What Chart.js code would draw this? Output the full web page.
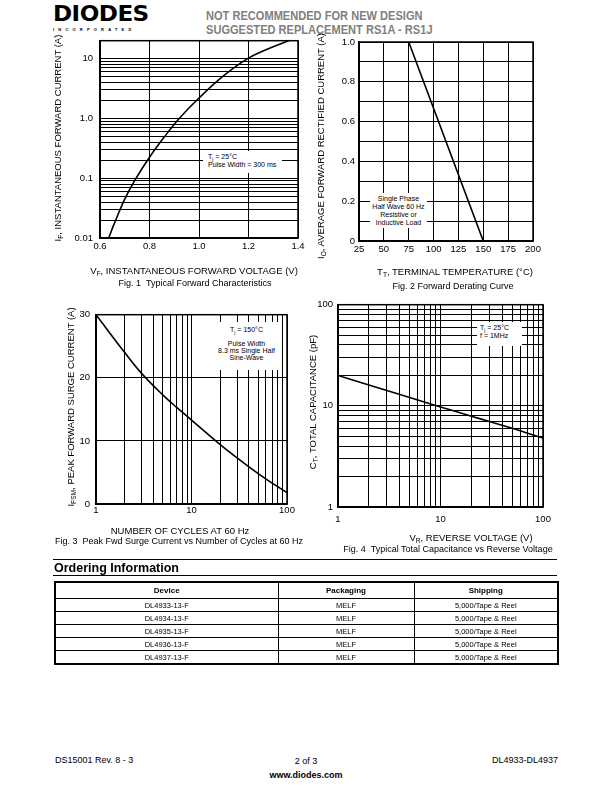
<!DOCTYPE html>
<html><head><meta charset="utf-8">
<script src="https://cdn.jsdelivr.net/npm/chart.js@4.4.0/dist/chart.umd.min.js"></script>
<style>
html,body{margin:0;padding:0;background:#fff;}
body{width:612px;height:792px;position:relative;overflow:hidden;font-family:"Liberation Sans",Arial,sans-serif;color:#000;}
.abs{position:absolute;white-space:nowrap;}
canvas{position:absolute;}
.ytitle{position:absolute;white-space:nowrap;transform:translate(-50%,-50%) rotate(-90deg);font-size:9.5px;}
.ctr{position:absolute;white-space:nowrap;transform:translate(-50%,-50%);font-size:9.5px;}
.cap{font-size:9px;}
.note{position:absolute;background:#fff;color:#000;font-size:7px;line-height:8px;white-space:nowrap;}
sub{font-size:70%;vertical-align:-2px;line-height:0;}
table.ord{position:absolute;left:54px;top:581px;width:503px;border-collapse:collapse;border:2px solid #000;font-size:7.5px;table-layout:fixed;}
table.ord td,table.ord th{border:1px solid #000;text-align:center;padding:0;}
table.ord th{height:15px;font-weight:bold;font-size:8px;}
table.ord td{height:12px;}
</style>
</head><body>

<!-- header -->
<div class="abs" style="left:53px;top:2px;font-family:'DejaVu Sans',sans-serif;font-weight:900;font-size:21px;letter-spacing:-0.5px;transform:scaleX(1.1);transform-origin:left top;">DIODES</div>
<div class="abs" style="left:53px;top:27px;font-size:4px;font-weight:bold;letter-spacing:4.2px;">INCORPORATED</div>
<div class="abs" style="left:206px;top:9px;font-weight:bold;font-size:13.5px;color:#808080;transform:scaleX(0.82);transform-origin:left top;line-height:14px;">NOT RECOMMENDED FOR NEW DESIGN<br>SUGGESTED REPLACEMENT RS1A - RS1J</div>

<canvas id="c1"></canvas>
<canvas id="c2"></canvas>
<canvas id="c3"></canvas>
<canvas id="c4"></canvas>

<!-- Fig 1 texts -->
<div class="ytitle" style="left:57px;top:138px;">I<sub>F</sub>, INSTANTANEOUS FORWARD CURRENT (A)</div>
<div class="ctr" style="left:194px;top:270px;">V<sub>F</sub>, INSTANTANEOUS FORWARD VOLTAGE (V)</div>
<div class="ctr cap" style="left:195px;top:283px;">Fig. 1&nbsp; Typical Forward Characteristics</div>
<div class="note" style="left:203px;top:151px;width:74px;height:20px;padding-left:5px;padding-top:2px;">T<sub>j</sub> = 25°C<br>Pulse Width = 300 ms</div>

<!-- Fig 2 texts -->
<div class="ytitle" style="left:320px;top:146px;">I<sub>O</sub>, AVERAGE FORWARD RECTIFIED CURRENT (A)</div>
<div class="ctr" style="left:455px;top:271px;">T<sub>T</sub>, TERMINAL TEMPERATURE (°C)</div>
<div class="ctr cap" style="left:453px;top:286px;">Fig. 2 Forward Derating Curve</div>
<div class="note" style="left:370px;top:193px;width:57px;height:33px;padding-top:2px;text-align:center;">Single Phase<br>Half Wave 60 Hz<br>Resistive or<br>Inductive Load</div>

<!-- Fig 3 texts -->
<div class="ytitle" style="left:70px;top:407px;">I<sub>FSM</sub>, PEAK FORWARD SURGE CURRENT (A)</div>
<div class="ctr" style="left:180px;top:530px;">NUMBER OF CYCLES AT 60 Hz</div>
<div class="ctr cap" style="left:179px;top:541px;">Fig. 3&nbsp; Peak Fwd Surge Current vs Number of Cycles at 60 Hz</div>
<div class="note" style="left:213px;top:322px;width:67px;height:44px;padding-top:4px;text-align:center;line-height:7px;">T<sub>j</sub> = 150°C<br><span style="display:inline-block;height:4px"></span><br>Pulse Width<br>8.3 ms Single Half<br>Sine-Wave</div>

<!-- Fig 4 texts -->
<div class="ytitle" style="left:312px;top:402px;">C<sub>T</sub>, TOTAL CAPACITANCE (pF)</div>
<div class="ctr" style="left:471px;top:537px;">V<sub>R</sub>, REVERSE VOLTAGE (V)</div>
<div class="ctr cap" style="left:448px;top:549px;">Fig. 4&nbsp; Typical Total Capacitance vs Reverse Voltage</div>
<div class="note" style="left:477px;top:322px;width:42px;height:22px;padding-left:3px;padding-top:2px;">T<sub>j</sub> = 25°C<br>f = 1MHz</div>

<!-- Ordering information -->
<div class="abs" style="left:53px;top:559px;width:504px;height:0;border-top:1.5px solid #000;"></div>
<div class="abs" style="left:54px;top:561px;font-weight:bold;font-size:12.5px;">Ordering Information</div>
<div class="abs" style="left:53px;top:575px;width:504px;height:0;border-top:1.5px solid #000;"></div>
<table class="ord" id="ordTable">
<colgroup><col style="width:223px"><col style="width:136px"><col style="width:144px"></colgroup>
<thead><tr><th>Device</th><th>Packaging</th><th>Shipping</th></tr></thead>
<tbody></tbody>
</table>

<!-- footer -->
<div class="abs" style="left:55px;top:755px;font-size:9px;">DS15001 Rev. 8 - 3</div>
<div class="ctr" style="left:306px;top:761px;font-size:9px;">2 of 3</div>
<div class="abs" style="right:54px;top:755px;font-size:9px;">DL4933-DL4937</div>
<div class="ctr" style="left:306px;top:775px;font-size:9px;font-weight:bold;">www.diodes.com</div>

<script>
// ---------- DATA ----------
// Fig 1: Typical Forward Characteristics
const fig1Voltage = [0.635, 0.66, 0.70, 0.74, 0.80, 0.86, 0.92, 1.00, 1.10, 1.20, 1.30, 1.37];
const fig1Current = [0.01, 0.0184, 0.0446, 0.091, 0.224, 0.49, 1.0, 2.2, 5.2, 10.2, 15.8, 20.5];
const fig1XTickValues = [0.6, 0.8, 1.0, 1.2, 1.4];
const fig1XTickLabels = ['0.6', '0.8', '1.0', '1.2', '1.4'];
const fig1YTickValues = [0.01, 0.1, 1, 10];
const fig1YTickLabels = ['0.01', '0.1', '1.0', '10'];

// Fig 2: Forward Derating Curve
const fig2Temperature = [25, 75, 150];
const fig2Current = [1.0, 1.0, 0];
const fig2XTickValues = [25, 50, 75, 100, 125, 150, 175, 200];
const fig2XTickLabels = ['25', '50', '75', '100', '125', '150', '175', '200'];
const fig2YTickValues = [0, 0.2, 0.4, 0.6, 0.8, 1.0];
const fig2YTickLabels = ['0', '0.2', '0.4', '0.6', '0.8', '1.0'];

// Fig 3: Peak Fwd Surge Current vs Number of Cycles
const fig3Cycles = [1, 2, 3, 5, 7, 10, 20, 30, 50, 70, 100];
const fig3Current = [30, 24, 20.7, 17.3, 15.3, 13.3, 9.4, 7.3, 4.8, 3.3, 1.8];
const fig3XTickValues = [1, 10, 100];
const fig3XTickLabels = ['1', '10', '100'];
const fig3YTickValues = [0, 10, 20, 30];
const fig3YTickLabels = ['0', '10', '20', '30'];

// Fig 4: Typical Total Capacitance vs Reverse Voltage
const fig4Voltage = [1, 2, 3, 5, 10, 20, 30, 50, 100];
const fig4Capacitance = [20, 16.1, 14.2, 12.1, 9.75, 7.9, 7.0, 6.0, 4.8];
const fig4XTickValues = [1, 10, 100];
const fig4XTickLabels = ['1', '10', '100'];
const fig4YTickValues = [1, 10, 100];
const fig4YTickLabels = ['1', '10', '100'];

// Ordering table
const orderDevices = ['DL4933-13-F', 'DL4934-13-F', 'DL4935-13-F', 'DL4936-13-F', 'DL4937-13-F'];
const orderPackaging = ['MELF', 'MELF', 'MELF', 'MELF', 'MELF'];
const orderShipping = ['5,000/Tape & Reel', '5,000/Tape & Reel', '5,000/Tape & Reel', '5,000/Tape & Reel', '5,000/Tape & Reel'];

// ---------- TABLE ----------
const tb = document.querySelector('#ordTable tbody');
orderDevices.forEach((d, i) => {
  const tr = document.createElement('tr');
  [d, orderPackaging[i], orderShipping[i]].forEach(t => {
    const td = document.createElement('td'); td.textContent = t; tr.appendChild(td);
  });
  tb.appendChild(tr);
});

// ---------- CHARTS ----------
Chart.defaults.font.family = '"Liberation Sans", Arial, sans-serif';
Chart.defaults.font.size = 9.5;
Chart.defaults.color = '#000';

function labeler(values, labels) {
  return (v) => {
    const i = values.findIndex(t => Math.abs(t - v) <= Math.abs(t) * 1e-6 + 1e-9);
    return i >= 0 ? labels[i] : '';
  };
}
function niceLogTicks(scale) {
  scale.ticks = scale.ticks.filter(t => {
    const e = Math.pow(10, Math.floor(Math.log10(t.value) + 1e-9));
    const m = t.value / e;
    return Math.abs(m - Math.round(m)) < 1e-6;
  });
}
const framePlugin = {
  id: 'frame',
  afterDraw(chart) {
    const a = chart.chartArea, ctx = chart.ctx;
    ctx.save();
    ctx.strokeStyle = '#000'; ctx.lineWidth = 1.5;
    ctx.strokeRect(a.left, a.top, a.right - a.left, a.bottom - a.top);
    ctx.restore();
  }
};

function axis(type, min, max, values, labels, pad, step) {
  const o = {
    type, min, max,
    grid: { color: '#000', lineWidth: 1, drawTicks: false },
    border: { display: true, color: '#000', width: 1.5 },
    ticks: { autoSkip: false, maxRotation: 0, padding: pad, callback: labeler(values, labels), color: '#000' }
  };
  if (step) o.ticks.stepSize = step;
  if (type === 'logarithmic') o.afterBuildTicks = niceLogTicks;
  return o;
}

function makeChart(id, area, xs, ys, xAxis, yAxis, tension) {
  const padL = 45, padT = 10, padR = 18, padB = 30;
  const c = document.getElementById(id);
  const W = area.R - area.L + padL + padR, H = area.B - area.T + padT + padB;
  c.width = W; c.height = H;
  c.style.left = (area.L - padL) + 'px'; c.style.top = (area.T - padT) + 'px';
  xAxis.afterFit = s => { s.height = padB; };
  yAxis.afterFit = s => { s.width = padL; };
  return new Chart(c, {
    type: 'line',
    data: {
      datasets: [{
        data: xs.map((x, i) => ({ x, y: ys[i] })),
        borderColor: '#000', borderWidth: 1.6, pointRadius: 0,
        tension: tension, cubicInterpolationMode: 'default', fill: false
      }]
    },
    options: {
      responsive: false, animation: false, devicePixelRatio: 1, events: [],
      layout: { padding: { left: 0, top: padT, right: padR, bottom: 0 } },
      plugins: { legend: { display: false }, tooltip: { enabled: false } },
      scales: { x: xAxis, y: yAxis }
    },
    plugins: [framePlugin]
  });
}

makeChart('c1', { L: 100, T: 38, R: 298, B: 238 }, fig1Voltage, fig1Current,
  axis('linear', 0.6, 1.4, fig1XTickValues, fig1XTickLabels, 3, 0.2),
  axis('logarithmic', 0.01, 20, fig1YTickValues, fig1YTickLabels, 7), 0.4);

makeChart('c2', { L: 359, T: 42, R: 533, B: 241 }, fig2Temperature, fig2Current,
  axis('linear', 25, 200, fig2XTickValues, fig2XTickLabels, 3, 25),
  axis('linear', 0, 1.0, fig2YTickValues, fig2YTickLabels, 4, 0.1), 0);

makeChart('c3', { L: 96, T: 313, R: 287, B: 504 }, fig3Cycles, fig3Current,
  axis('logarithmic', 1, 100, fig3XTickValues, fig3XTickLabels, 1),
  axis('linear', 0, 30, fig3YTickValues, fig3YTickLabels, 6, 10), 0.4);

makeChart('c4', { L: 338, T: 304, R: 543, B: 507 }, fig4Voltage, fig4Capacitance,
  axis('logarithmic', 1, 100, fig4XTickValues, fig4XTickLabels, 7),
  axis('logarithmic', 1, 100, fig4YTickValues, fig4YTickLabels, 5), 0.4);
</script>
</body></html>
